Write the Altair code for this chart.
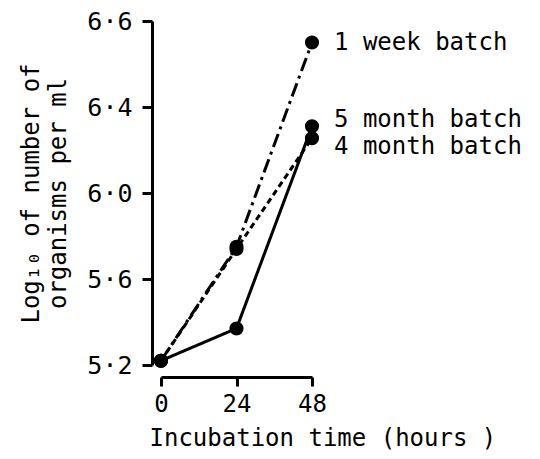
import altair as alt
import pandas as pd

HOURS = [0, 24, 48]
SERIES = ["1 week batch", "5 month batch", "4 month batch"]
WEEK1 = [5.22, 5.75, 6.70]
MONTH5 = [5.22, 5.37, 6.31]
MONTH4 = [5.22, 5.74, 6.255]
Y_TICKS = [5.2, 5.6, 6.0, 6.4, 6.8]
Y_TICK_LABELS = ["5·2", "5·6", "6·0", "6·4", "6·6"]
X_TICKS = [0, 24, 48]
LABEL_Y = [6.70, 6.34, 6.215]

FONT = "DejaVu Sans Mono"

rows = []
for name, vals in zip(SERIES, [WEEK1, MONTH5, MONTH4]):
    for h, v in zip(HOURS, vals):
        rows.append({"hours": h, "value": v, "series": name})
df = pd.DataFrame(rows)
lab = pd.DataFrame({"hours": [HOURS[-1]] * 3, "value": LABEL_Y, "series": SERIES})

expr = "''"
for v, l in reversed(list(zip(Y_TICKS, Y_TICK_LABELS))):
    expr = f"abs(datum.value - {v}) < 0.01 ? '{l}' : ({expr})"

xscale = alt.Scale(domain=[0, 48], nice=False, zero=False)
yscale = alt.Scale(domain=[5.2, 6.8], nice=False, zero=False)

x_axis = alt.Axis(values=X_TICKS, title="Incubation time (hours )", offset=12,
                  grid=False, domainWidth=3, tickWidth=3, tickSize=9,
                  labelFontSize=24, labelFont=FONT, labelPadding=6, labelFlush=False,
                  titleFontSize=24, titleFont=FONT, titleFontWeight="normal",
                  titleAlign="left", titleAnchor="start", titleX=-12, titlePadding=10,
                  domainColor="black", tickColor="black", labelColor="black", titleColor="black")
y_axis = alt.Axis(values=Y_TICKS, labelExpr=expr, offset=9, labelFlush=False,
                  title=["Log₁₀ of number of", "organisms per ml"],
                  grid=False, domainWidth=3, tickWidth=3, tickSize=10,
                  labelFontSize=25, labelFont=FONT, labelPadding=10,
                  titleFontSize=24, titleFont=FONT, titleFontWeight="normal",
                  titleLineHeight=27, titlePadding=16,
                  domainColor="black", tickColor="black", labelColor="black", titleColor="black")

dash = alt.Scale(domain=SERIES, range=[[14, 5, 3, 5], [1, 0], [6, 4]])

base = alt.Chart(df).encode(
    x=alt.X("hours:Q", scale=xscale, axis=x_axis),
    y=alt.Y("value:Q", scale=yscale, axis=y_axis),
)
lines = base.mark_line(color="black", strokeWidth=3).encode(
    strokeDash=alt.StrokeDash("series:N", scale=dash, legend=None),
    detail="series:N",
)
points = base.mark_circle(color="black", size=200, opacity=1)
labels = alt.Chart(lab).mark_text(align="left", baseline="middle", dx=22,
                                  fontSize=24, font=FONT, color="black").encode(
    x=alt.X("hours:Q", scale=xscale),
    y=alt.Y("value:Q", scale=yscale),
    text="series:N",
)

chart = alt.layer(lines, points, labels).properties(
    width=151, height=344,
    autosize=alt.AutoSizeParams(type="none"),
    padding={"left": 153, "top": 13, "right": 215, "bottom": 86},
    background="white",
).configure_view(stroke=None)

chart.save("out.html", embed_options={"renderer": "svg", "actions": False})
